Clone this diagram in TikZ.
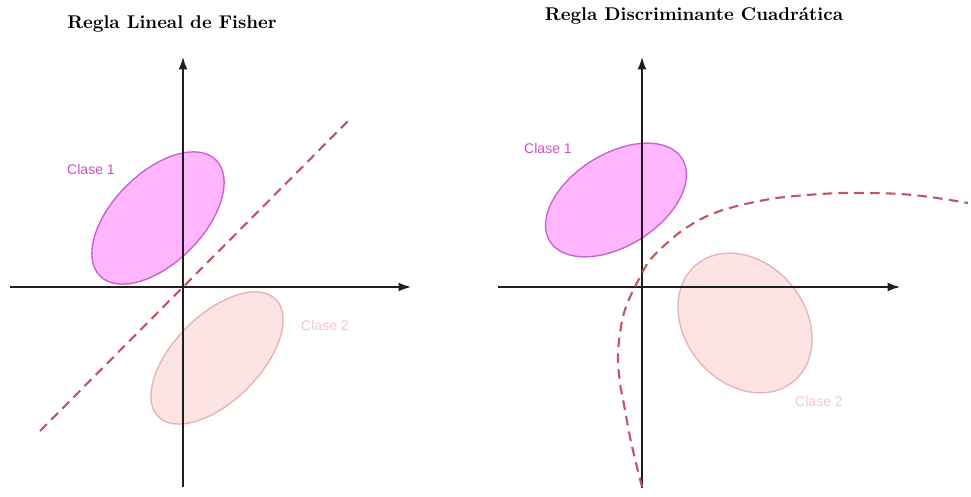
\documentclass[tikz,border=0pt]{standalone}
\usepackage{fontspec}
\newfontfamily\labelfont{Liberation Sans}
\usetikzlibrary{arrows.meta,shapes.geometric}
\definecolor{axis}{RGB}{30,30,30}
\definecolor{cfill}{RGB}{255,182,255}
\definecolor{cdraw}{RGB}{200,100,205}
\definecolor{ctext}{RGB}{205,80,205}
\definecolor{dfill}{RGB}{253,228,228}
\definecolor{ddraw}{RGB}{232,180,180}
\definecolor{dtext}{RGB}{244,196,210}
\definecolor{bound}{RGB}{195,85,95}
\tikzset{
  axisline/.style={draw=axis,line width=0.8pt,-{Latex[length=7pt,width=5pt]}},
  classone/.style={ellipse,draw=cdraw,fill=cfill,line width=0.8pt,inner sep=0pt},
  classtwo/.style={ellipse,draw=ddraw,fill=dfill,line width=0.8pt,inner sep=0pt},
  onelabel/.style={text=ctext,font=\labelfont\fontsize{8}{9}\selectfont},
  twolabel/.style={text=dtext,font=\labelfont\fontsize{8}{9}\selectfont},
  boundary/.style={draw=bound,line width=1.2pt,dash pattern=on 5.5pt off 3.5pt},
  titletext/.style={font=\bfseries\fontsize{10.5}{12}\selectfont}
}
\begin{document}
\begin{tikzpicture}[x=0.02cm,y=-0.02cm]
\useasboundingbox (0,0) rectangle (971,497);
% ---------- left panel ----------
\node[titletext] (t1) at (172,24) {Regla Lineal de Fisher};
\node[classone,minimum width=3.28cm,minimum height=1.8cm,rotate=45] (l1) at (158,218) {};
\node[classtwo,minimum width=3.32cm,minimum height=1.72cm,rotate=45] (l2) at (217,358) {};
\coordinate (lyb) at (183,487);
\coordinate (lyt) at (183,57);
\coordinate (lxl) at (10,287);
\coordinate (lxr) at (411,287);
\draw[axisline] (lyb) -- (lyt);
\draw[axisline] (lxl) -- (lxr);
\coordinate (la) at (40,431);
\coordinate (lb) at (352,117);
\draw[boundary] (la) -- (lb);
\node[onelabel] (lc1) at (91,169) {Clase 1};
\node[twolabel] (lc2) at (325,325) {Clase 2};
% ---------- right panel ----------
\node[titletext] (t2) at (694,16) {Regla Discriminante Cuadrática};
\node[classone,minimum width=3.12cm,minimum height=1.84cm,rotate=32] (r1) at (616,200) {};
\node[classtwo,minimum width=3.04cm,minimum height=2.4cm,rotate=-50] (r2) at (745,323) {};
\coordinate (ryb) at (642,488);
\coordinate (ryt) at (642,57);
\coordinate (rxl) at (498,287);
\coordinate (rxr) at (900,287);
\draw[axisline] (ryb) -- (ryt);
\draw[axisline] (rxl) -- (rxr);
\draw[boundary] plot[smooth,tension=0.6] coordinates {
 (642,487) (636,463) (630,437) (625,410) (620,383) (618,357) (620,333)
 (624,313) (630,297) (640,277) (650,260) (667,243) (683,230) (703,218)
 (723,210) (750,203) (777,198) (807,195) (840,193) (870,193) (900,194)
 (930,197) (968,203)};
\node[onelabel] (rc1) at (548,148) {Clase 1};
\node[twolabel] (rc2) at (819,401) {Clase 2};
\end{tikzpicture}
\end{document}
